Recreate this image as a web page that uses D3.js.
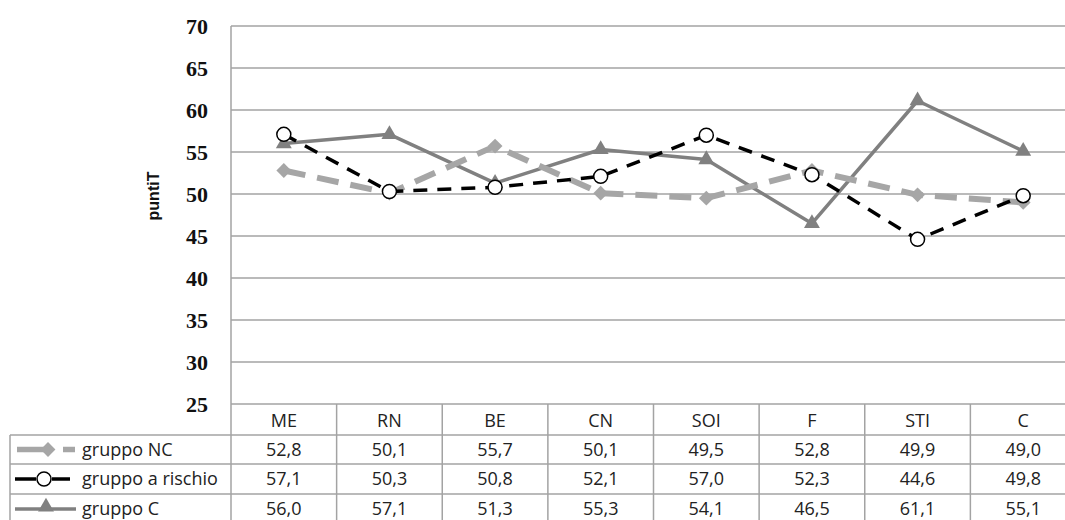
<!DOCTYPE html>
<html>
<head>
<meta charset="utf-8">
<script src="https://cdn.jsdelivr.net/npm/d3@7"></script>
<style>
  body { margin: 0; background: #fff; }
  svg { display: block; }
</style>
</head>
<body>
<div id="chart"></div>
<script>
// dati
const categorie = ["ME", "RN", "BE", "CN", "SOI", "F", "STI", "C"];
const gruppoNC = [52.8, 50.1, 55.7, 50.1, 49.5, 52.8, 49.9, 49.0];
const gruppoRischio = [57.1, 50.3, 50.8, 52.1, 57.0, 52.3, 44.6, 49.8];
const gruppoC = [56.0, 57.1, 51.3, 55.3, 54.1, 46.5, 61.1, 55.1];
const yTicks = [25, 30, 35, 40, 45, 50, 55, 60, 65, 70];

const serie = [
  { nome: "gruppo NC", valori: gruppoNC, colore: "#a6a6a6", width: 6, dash: "22,12", marker: "diamond" },
  { nome: "gruppo a rischio", valori: gruppoRischio, colore: "#000", width: 3.5, dash: "14,10", marker: "circle" },
  { nome: "gruppo C", valori: gruppoC, colore: "#808080", width: 3.5, dash: null, marker: "triangle" }
];

const width = 1065, height = 520;
const plotLeft = 231, plotRight = 1076, plotTop = 26, plotBottom = 404;
const rowLines = [435, 464, 494, 524];
const legendLeft = 10;
const gridColor = "#a3a3a3";

const svg = d3.select("#chart").append("svg")
  .attr("width", width)
  .attr("height", height);

const x = d3.scaleBand().domain(categorie).range([plotLeft, plotRight]);
const y = d3.scaleLinear().domain([25, 70]).range([plotBottom, plotTop]);

// griglia orizzontale
svg.append("g").selectAll("line")
  .data(yTicks)
  .enter().append("line")
  .attr("x1", plotLeft).attr("x2", plotRight)
  .attr("y1", d => y(d)).attr("y2", d => y(d))
  .attr("stroke", gridColor).attr("stroke-width", 1.5);

// asse verticale
svg.append("line")
  .attr("x1", plotLeft).attr("x2", plotLeft)
  .attr("y1", plotTop).attr("y2", height)
  .attr("stroke", gridColor).attr("stroke-width", 1.5);

// etichette asse y
svg.append("g").selectAll("text")
  .data(yTicks)
  .enter().append("text")
  .attr("x", 208)
  .attr("y", d => y(d))
  .attr("dy", "0.35em")
  .attr("text-anchor", "end")
  .style("font-family", "'Liberation Serif', serif")
  .style("font-weight", "bold")
  .style("font-size", "22px")
  .style("fill", "#111")
  .text(d => d);

svg.append("text")
  .attr("transform", "translate(159,196) rotate(-90)")
  .attr("text-anchor", "middle")
  .style("font-family", "'Liberation Sans', Arial, sans-serif")
  .style("font-weight", "bold")
  .style("font-size", "16px")
  .style("fill", "#111")
  .text("puntiT");

// tabella dati
const tab = svg.append("g");
rowLines.forEach(function(ry) {
  tab.append("line")
    .attr("x1", legendLeft).attr("x2", plotRight)
    .attr("y1", ry).attr("y2", ry)
    .attr("stroke", gridColor).attr("stroke-width", 1.5);
});
tab.append("line")
  .attr("x1", legendLeft).attr("x2", legendLeft)
  .attr("y1", rowLines[0]).attr("y2", height)
  .attr("stroke", gridColor).attr("stroke-width", 1.5);
tab.selectAll(".vline")
  .data(categorie)
  .enter().append("line")
  .attr("class", "vline")
  .attr("x1", d => x(d) + x.bandwidth()).attr("x2", d => x(d) + x.bandwidth())
  .attr("y1", plotBottom).attr("y2", height)
  .attr("stroke", gridColor).attr("stroke-width", 1.5);

const tableFont = "'Open Sans', 'Noto Sans', sans-serif";
const tableSize = "18px";
tab.selectAll(".cat")
  .data(categorie)
  .enter().append("text")
  .attr("class", "cat")
  .attr("x", d => x(d) + x.bandwidth() / 2)
  .attr("y", (plotBottom + rowLines[0]) / 2 + 1)
  .attr("dy", "0.35em")
  .attr("text-anchor", "middle")
  .style("font-family", tableFont)
  .style("font-size", tableSize)
  .style("fill", "#222")
  .text(d => d);

const fmt = v => v.toFixed(1).replace(".", ",");

serie.forEach(function(s, i) {
  const cy = (rowLines[i] + rowLines[i + 1]) / 2;
  tab.selectAll(".val" + i)
    .data(s.valori)
    .enter().append("text")
    .attr("x", (d, j) => x(categorie[j]) + x.bandwidth() / 2)
    .attr("y", cy)
    .attr("dy", "0.35em")
    .attr("text-anchor", "middle")
    .style("font-family", tableFont)
    .style("font-size", tableSize)
    .style("fill", "#222")
    .text(d => fmt(d));

  tab.append("text")
    .attr("x", 82)
    .attr("y", cy)
    .attr("dy", "0.35em")
    .style("font-family", tableFont)
    .style("font-size", tableSize)
    .style("fill", "#222")
    .text(s.nome);
});

function drawMarker(g, tipo, cx, cy, colore) {
  if (tipo === "diamond") {
    g.append("path")
      .attr("d", d3.symbol().type(d3.symbolDiamond2).size(140)())
      .attr("transform", `translate(${cx},${cy})`)
      .attr("fill", colore);
  } else if (tipo === "circle") {
    g.append("circle")
      .attr("cx", cx).attr("cy", cy).attr("r", 7)
      .attr("fill", "#fff").attr("stroke", colore).attr("stroke-width", 1.5);
  } else {
    g.append("path")
      .attr("d", d3.symbol().type(d3.symbolTriangle).size(110)())
      .attr("transform", `translate(${cx},${cy})`)
      .attr("fill", colore);
  }
}

// legenda nella tabella
const leg = svg.append("g");
// NC
leg.append("line").attr("x1", 17).attr("x2", 44).attr("y1", 449.5).attr("y2", 449.5)
  .attr("stroke", serie[0].colore).attr("stroke-width", 5.5);
leg.append("line").attr("x1", 63).attr("x2", 75).attr("y1", 449.5).attr("y2", 449.5)
  .attr("stroke", serie[0].colore).attr("stroke-width", 5.5);
drawMarker(leg, "diamond", 48, 449.5, serie[0].colore);
// a rischio
leg.append("line").attr("x1", 15).attr("x2", 36).attr("y1", 479).attr("y2", 479)
  .attr("stroke", "#000").attr("stroke-width", 3.5);
leg.append("line").attr("x1", 52).attr("x2", 70).attr("y1", 479).attr("y2", 479)
  .attr("stroke", "#000").attr("stroke-width", 3.5);
drawMarker(leg, "circle", 44, 479, "#000");
// C
leg.append("line").attr("x1", 15).attr("x2", 76).attr("y1", 509).attr("y2", 509)
  .attr("stroke", serie[2].colore).attr("stroke-width", 3.5);
drawMarker(leg, "triangle", 46, 507, serie[2].colore);

// linee delle serie: prima gruppo C, poi NC, poi a rischio
const ordine = [2, 0, 1];
const line = d3.line()
  .x((d, j) => x(categorie[j]) + x.bandwidth() / 2)
  .y(d => y(d));

ordine.forEach(function(i) {
  const s = serie[i];
  const g = svg.append("g");
  g.append("path")
    .datum(s.valori)
    .attr("d", line)
    .attr("fill", "none")
    .attr("stroke", s.colore)
    .attr("stroke-width", s.width)
    .attr("stroke-dasharray", s.dash)
    .attr("stroke-linejoin", "round");
  s.valori.forEach(function(v, j) {
    drawMarker(g, s.marker, x(categorie[j]) + x.bandwidth() / 2, y(v), s.colore);
  });
});
</script>
</body>
</html>
